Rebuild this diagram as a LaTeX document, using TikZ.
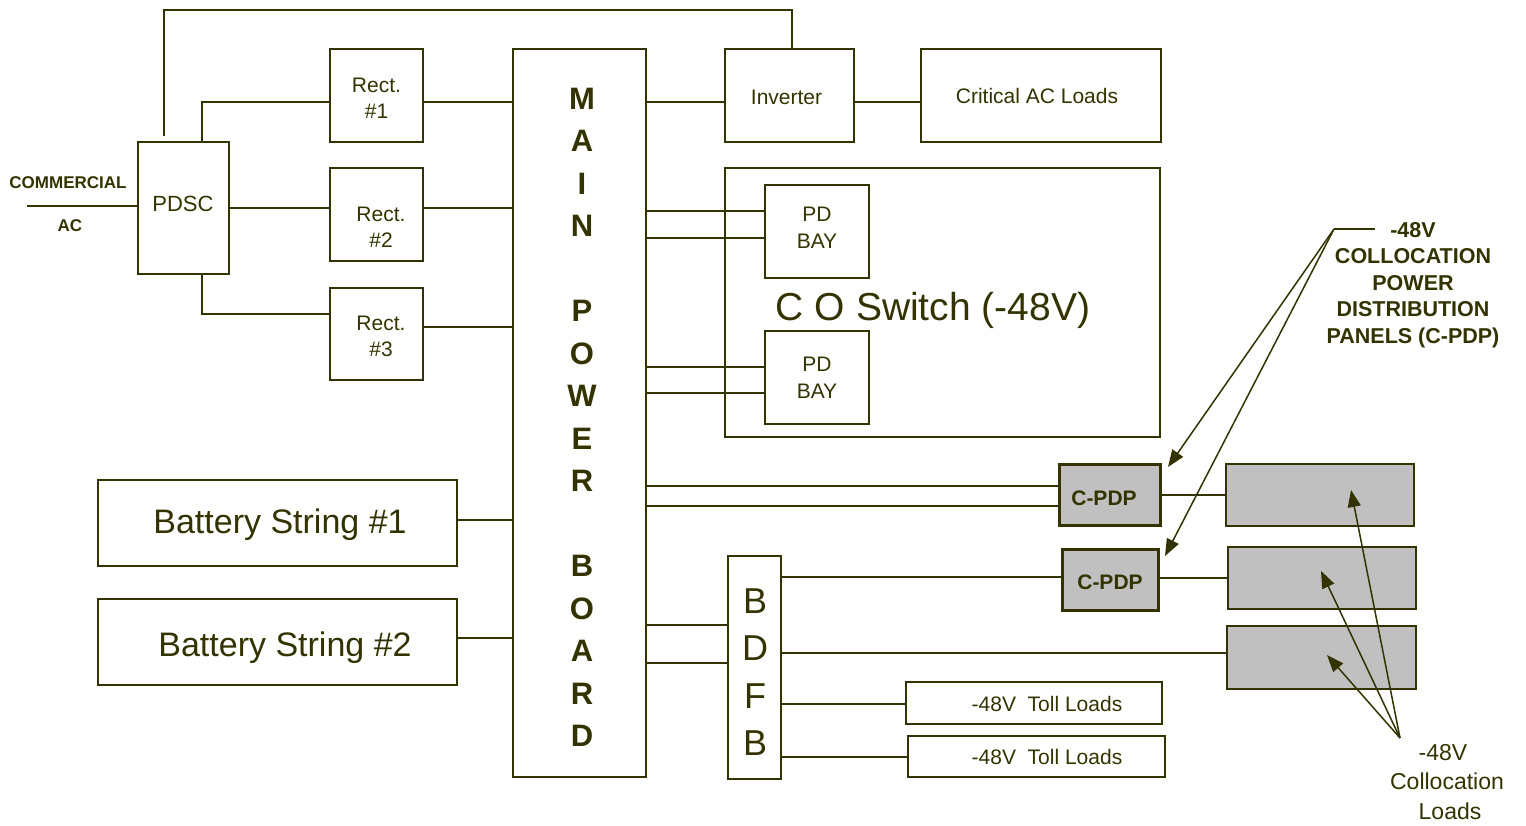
\documentclass[tikz,border=0pt]{standalone}
\usepackage{fontspec}
\setmainfont{Liberation Sans}
\usetikzlibrary{arrows.meta,calc}
\definecolor{ol}{HTML}{333300}
\definecolor{gr}{HTML}{C0C0C0}
\newcommand\fsz[2]{\fontsize{#1}{#2}\selectfont}
\begin{document}
\begin{tikzpicture}[x=1pt,y=-1pt,color=ol,line width=1.5pt,
  box/.style={draw,line width=1.5pt,inner sep=0pt,align=center,anchor=center},
  cpdp/.style={box,fill=gr,line width=3pt},
  gbox/.style={box,fill=gr},
  txt/.style={inner sep=0pt,align=center},
  arr/.style={-{Triangle[length=17pt,width=13pt]},line width=1.5pt}]
\useasboundingbox (0,0) rectangle (1526,825);
% nodes
\node[box,minimum width=91pt,minimum height=132pt] (pdsc) at (183.5,208) {};
\node[txt,font=\fsz{22}{26}] (pdsctxt) at (183,204) {PDSC};
\node[txt,font=\fsz{17}{20}\bfseries] (comm) at (68,183) {COMMERCIAL};
\node[txt,font=\fsz{17}{20}\bfseries] (ac) at (70,226) {AC};
\coordinate (acin) at (27,206);
\node[box,minimum width=93pt,minimum height=93pt,label={[txt,font=\fsz{21}{26},yshift=-3pt]center:{Rect.\\\#1}}] (r1) at (376.5,95.5) {};
\node[box,minimum width=93pt,minimum height=93pt,label={[txt,font=\fsz{21}{26},xshift=4.5pt,yshift=-13pt]center:{Rect.\\\#2}}] (r2) at (376.5,214.5) {};
\node[box,minimum width=93pt,minimum height=92pt,label={[txt,font=\fsz{21}{26},xshift=4.5pt,yshift=-2pt]center:{Rect.\\\#3}}] (r3) at (376.5,334) {};
\node[box,minimum width=133pt,minimum height=728pt] (main) at (579.5,413) {};
\node[txt,font=\fsz{31}{42.5}\bfseries] (maintxt) at (582,417.5) {M\\A\\I\\N\\[42.5pt]P\\O\\W\\E\\R\\[42.5pt]B\\O\\A\\R\\D};
\node[box,minimum width=129pt,minimum height=93pt,label={[txt,font=\fsz{21}{25},xshift=-3pt,yshift=-2pt]center:Inverter}] (inv) at (789.5,95.5) {};
\node[box,minimum width=240pt,minimum height=93pt,label={[txt,font=\fsz{21}{25},xshift=-4pt]center:Critical AC Loads}] (crit) at (1041,95.5) {};
\node[box,minimum width=435pt,minimum height=269pt] (cosw) at (942.5,302.5) {};
\node[txt,font=\fsz{39}{45}] (costxt) at (933,310) {C O Switch (-48V)};
\node[box,minimum width=104pt,minimum height=93pt,label={[txt,font=\fsz{21}{27},yshift=4pt]center:{PD\\BAY}}] (pd1) at (817,231.5) {};
\node[box,minimum width=104pt,minimum height=93pt,label={[txt,font=\fsz{21}{27}]center:{PD\\BAY}}] (pd2) at (817,377.5) {};
\node[cpdp,minimum width=101pt,minimum height=61pt,label={[txt,font=\fsz{21}{25}\bfseries,xshift=-5.5pt,yshift=-3.5pt]center:C-PDP}] (cp1) at (1109.5,494.5) {};
\node[cpdp,minimum width=96pt,minimum height=61pt,label={[txt,font=\fsz{21}{25}\bfseries,yshift=-3pt]center:C-PDP}] (cp2) at (1110,579.5) {};
\node[gbox,minimum width=188pt,minimum height=62pt] (g1) at (1320,495) {};
\node[gbox,minimum width=188pt,minimum height=62pt] (g2) at (1322,578) {};
\node[gbox,minimum width=189pt,minimum height=63pt] (g3) at (1321.5,657.5) {};
\node[box,minimum width=53pt,minimum height=223pt] (bdfb) at (754.5,667.5) {};
\node[txt,font=\fsz{36}{47.3}] (bdfbtxt) at (755,672) {B\\D\\F\\B};
\node[box,minimum width=256pt,minimum height=42pt,label={[txt,font=\fsz{21}{25},xshift=13pt,yshift=-1pt]center:{-48V\ \ Toll Loads}}] (t1) at (1034,703) {};
\node[box,minimum width=257pt,minimum height=41pt,label={[txt,font=\fsz{21}{25},xshift=10.5pt]center:{-48V\ \ Toll Loads}}] (t2) at (1036.5,756.5) {};
\node[box,minimum width=359pt,minimum height=86pt,label={[txt,font=\fsz{34}{40},xshift=2.5pt,yshift=-2pt]center:{Battery String \#1}}] (b1) at (277.5,523) {};
\node[box,minimum width=359pt,minimum height=86pt,label={[txt,font=\fsz{34}{40},xshift=7.5pt,yshift=-6pt]center:{Battery String \#2}}] (b2) at (277.5,642) {};
\node[txt,font=\fsz{21.5}{26.5}\bfseries] (callout) at (1413,285) {-48V\\COLLOCATION\\POWER\\DISTRIBUTION\\PANELS (C-PDP)};
\node[txt,font=\fsz{23}{29.5}] (colload) at (1447,782) {\hspace*{-8pt}-48V\\Collocation\\\hspace*{6pt}Loads};
% coordinates
\coordinate (topc) at (400,10);
\coordinate (cpe) at (1375,229);
\coordinate (cpk) at (1334,229);
\coordinate (tipa) at (1168,467);
\coordinate (tipb) at (1165,556);
\coordinate (clk) at (1400,738);
\coordinate (tipc) at (1351,490);
\coordinate (tipd) at (1321,571);
\coordinate (tipe) at (1327,655);
% connectors
\draw (acin) -- (pdsc.west |- acin);
\draw ([xshift=-19.5pt,yshift=5pt]pdsc.north) |- (topc) -| ([xshift=2.5pt]inv.north);
\draw ([xshift=18.5pt]pdsc.north) |- (r1.west |- 0,102);
\draw (pdsc.east |- 0,208) -- (r2.west |- 0,208);
\draw ([xshift=18.5pt]pdsc.south) |- (r3.west |- 0,314);
\draw (r1.east |- 0,102) -- (main.west |- 0,102);
\draw (r2.east |- 0,208) -- (main.west |- 0,208);
\draw (r3.east |- 0,327) -- (main.west |- 0,327);
\draw (b1.east |- 0,520) -- (main.west |- 0,520);
\draw (b2.east |- 0,638) -- (main.west |- 0,638);
\draw (main.east |- 0,102) -- (inv.west |- 0,102);
\draw (inv.east |- 0,102) -- (crit.west |- 0,102);
\draw (main.east |- 0,211) -- (pd1.west |- 0,211);
\draw (main.east |- 0,238) -- (pd1.west |- 0,238);
\draw (main.east |- 0,367) -- (pd2.west |- 0,367);
\draw (main.east |- 0,393) -- (pd2.west |- 0,393);
\draw (main.east |- 0,486) -- (cp1.west |- 0,486);
\draw (main.east |- 0,506) -- (cp1.west |- 0,506);
\draw (cp1.east |- 0,495) -- (g1.west |- 0,495);
\draw (cp2.east |- 0,578) -- (g2.west |- 0,578);
\draw (main.east |- 0,625) -- (bdfb.west |- 0,625);
\draw (main.east |- 0,663) -- (bdfb.west |- 0,663);
\draw (bdfb.east |- 0,577) -- (cp2.west |- 0,577);
\draw (bdfb.east |- 0,653) -- (g3.west |- 0,653);
\draw (bdfb.east |- 0,704) -- (t1.west |- 0,704);
\draw (bdfb.east |- 0,757) -- (t2.west |- 0,757);
% callouts
\draw (cpe) -- (cpk);
\draw[arr] (cpk) -- (tipa);
\draw[arr] (cpk) -- (tipb);
\draw[arr] (clk) -- (tipc);
\draw[arr] (clk) -- (tipd);
\draw[arr] (clk) -- (tipe);
\end{tikzpicture}
\end{document}
